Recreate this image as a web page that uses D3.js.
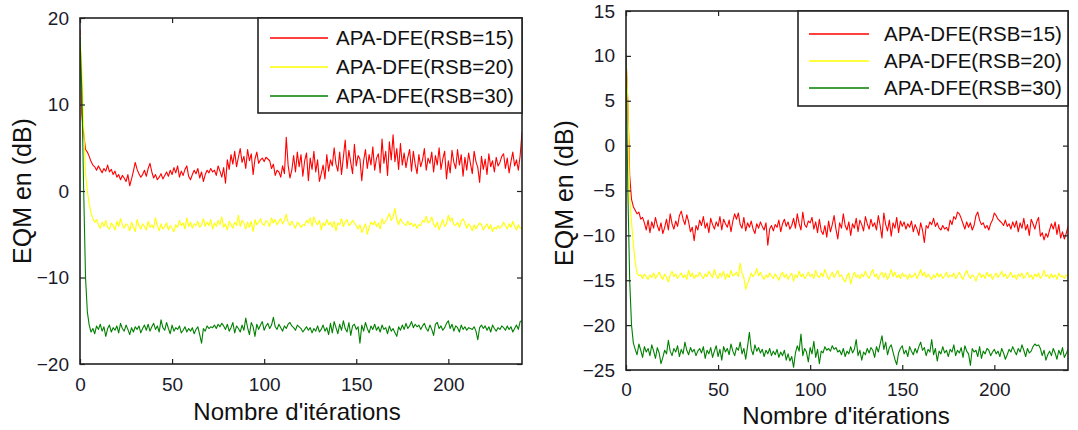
<!DOCTYPE html>
<html>
<head>
<meta charset="utf-8">
<script src="https://cdn.jsdelivr.net/npm/d3@7"></script>
<style>
  body { margin: 0; background: #fff; }
  svg { display: block; font-family: "Liberation Sans", Arial, sans-serif; }
</style>
</head>
<body>
<svg id="chart" width="1078" height="430"></svg>
<script>
// ---- data ----
const seriesNames = ["APA-DFE(RSB=15)", "APA-DFE(RSB=20)", "APA-DFE(RSB=30)"];
const xTicks = [0, 50, 100, 150, 200];
const xMax = 240;
const leftYTicks = [-20, -10, 0, 10, 20];
const rightYTicks = [-25, -20, -15, -10, -5, 0, 5, 10, 15];

// left panel
const leftRsb15 = [
  18.7, 8.9, 6.6, 4.8, 4.5, 4.0, 3.4, 3.0, 2.8, 2.4,
  2.9, 2.5, 2.1, 2.6, 2.3, 3.0, 2.2, 2.5, 1.9, 2.3,
  1.6, 1.9, 1.3, 1.8, 1.5, 1.1, 1.9, 0.6, 1.4, 2.3,
  3.3, 2.5, 2.0, 1.6, 1.9, 2.4, 1.7, 2.6, 3.2, 2.2,
  1.5, 1.9, 1.3, 1.6, 2.0, 1.4, 1.8, 2.2, 1.7, 2.4,
  1.9, 2.7, 2.1, 2.9, 1.6, 2.3, 1.8, 2.5, 2.9, 1.7,
  1.3, 1.9, 2.4, 2.0, 2.6, 1.5, 2.2, 1.1, 1.9, 2.4,
  2.1, 2.6, 2.2, 2.4, 1.8, 2.9, 2.3, 1.6, 2.7, 0.9,
  3.6, 2.5, 4.2, 3.1, 4.6, 2.8, 3.9, 4.9, 3.3, 4.0,
  2.6, 4.8, 3.5, 4.3, 1.9, 3.7, 4.5, 3.2, 3.6, 3.8,
  3.4, 3.9, 3.7, 3.5, 2.6, 3.1, 1.8, 2.4, 2.2, 1.6,
  2.9, 2.0, 6.2, 3.0, 1.5, 2.4, 4.1, 2.2, 4.5, 2.8,
  4.2, 1.7, 3.5, 4.4, 1.2, 3.8, 2.5, 4.6, 2.2, 3.6,
  1.1, 2.0, 3.0, 1.4, 4.2, 2.3, 3.6, 2.9, 5.0, 3.1,
  2.3, 4.5, 1.9, 3.9, 5.9, 2.6, 4.7, 3.3, 2.0, 5.4,
  2.9, 4.1, 3.7, 1.2, 3.5, 4.8, 2.6, 4.2, 3.0, 5.1,
  2.4, 3.8, 4.3, 2.1, 6.0, 3.2, 4.6, 1.8, 5.7, 3.6,
  6.5, 3.4, 4.9, 2.5, 5.5, 3.0, 4.4, 2.7, 3.9, 4.8,
  2.3, 4.6, 3.1, 2.0, 4.2, 2.8, 3.6, 4.9, 2.4, 3.8,
  3.2, 4.5, 2.2, 4.1, 3.0, 5.0, 2.5, 3.7, 4.6, 1.4,
  3.5, 2.1, 4.7, 3.3, 2.6, 4.8, 3.0, 4.2, 1.7, 3.9,
  2.4, 4.4, 3.2, 2.0, 4.6, 3.4, 2.7, 1.0, 4.0, 2.5,
  3.7, 1.9, 4.3, 2.8, 3.5, 2.2, 3.9, 2.9, 3.3, 4.0,
  4.3, 2.6, 3.8, 2.1, 3.4, 4.5, 2.9, 3.6, 2.4, 4.1,
  6.8
];
const leftRsb20 = [
  18.0, 13.9, 7.5, 2.0, 0.0, -1.5, -2.6, -3.2, -3.6, -3.3,
  -3.9, -4.3, -3.6, -4.1, -3.4, -4.2, -4.4, -3.7, -4.0, -4.5,
  -3.5, -4.1, -3.2, -3.9, -4.3, -3.8, -4.0, -4.6, -3.6, -4.2,
  -4.7, -3.3, -4.0, -4.4, -3.8, -4.1, -4.5, -3.5, -4.2, -3.9,
  -4.3, -3.1, -4.0, -4.6, -3.8, -4.4, -4.1, -3.7, -4.5, -4.0,
  -4.3, -4.7, -3.9, -4.2, -3.4, -4.0, -3.7, -4.4, -3.1, -4.1,
  -3.6, -4.3, -3.8, -4.0, -3.5, -4.2, -3.9, -3.2, -4.1, -3.6,
  -4.0, -3.3, -4.4, -3.7, -4.1, -3.4, -3.9, -3.0, -4.2, -3.8,
  -4.5, -3.5, -3.9, -4.3, -3.6, -4.0, -2.8, -4.1, -3.4, -3.7,
  -4.4, -3.6, -4.2, -3.5, -4.7, -3.3, -3.9, -3.6, -3.2, -3.8,
  -4.0, -3.4, -3.6, -4.1, -3.1, -3.7, -3.3, -3.9, -3.5, -3.2,
  -3.8, -3.4, -2.7, -3.6, -4.0, -3.5, -3.9, -4.3, -3.6, -3.8,
  -4.2, -3.9, -4.0, -3.4, -3.7, -3.1, -4.1, -3.0, -3.6, -3.9,
  -3.4, -4.5, -3.7, -4.0, -3.3, -3.9, -3.6, -4.2, -3.5, -4.6,
  -3.7, -3.9, -3.2, -4.1, -3.6, -3.3, -4.0, -3.8, -3.4, -3.7,
  -4.0, -4.4, -3.9, -4.8, -4.3, -3.8, -5.0, -4.2, -3.6, -3.9,
  -3.5, -4.1, -3.7, -4.4, -3.2, -3.8, -3.5, -3.1, -2.6, -3.4,
  -3.0, -2.0, -3.3, -3.9, -3.2, -3.6, -3.8, -4.0, -3.5, -3.9,
  -3.7, -4.1, -3.8, -4.3, -3.9, -4.0, -3.4, -3.6, -2.9, -3.7,
  -3.5, -3.0, -3.8, -4.2, -3.6, -4.5, -3.9, -3.3, -4.1, -3.8,
  -2.8, -3.5, -3.1, -3.9, -4.0, -3.6, -4.2, -3.5, -3.2, -3.7,
  -4.3, -3.8, -4.1, -4.6, -3.9, -4.4, -4.0, -3.7, -3.9, -4.5,
  -4.1, -3.8, -4.4, -3.9, -4.7, -4.2, -4.4, -4.0, -4.3, -4.1,
  -3.6, -4.0, -4.4, -3.8, -4.2, -3.5, -4.1, -4.5, -3.9, -4.3,
  -4.2
];
const leftRsb30 = [
  17.8, 11.4, 0.0, -10.0, -14.0, -15.5, -16.3, -15.9, -16.5, -15.6,
  -16.0, -15.4, -16.2, -15.7, -16.8, -15.9, -15.5, -16.3, -15.8, -16.1,
  -15.6, -16.4, -15.3, -15.9, -16.2, -15.5, -16.0, -16.6, -15.8, -16.3,
  -15.7, -16.0, -15.6, -16.4, -15.9, -15.5, -16.1, -15.4, -16.2, -15.7,
  -15.3, -16.0, -15.6, -16.3, -14.9, -15.8, -16.1, -15.2, -15.9, -16.5,
  -15.5, -16.2, -15.8, -16.0, -15.6, -16.4, -16.1, -15.7, -16.3, -15.9,
  -16.2, -15.8, -16.5, -16.0, -15.7, -16.6, -17.6, -15.9, -16.2, -15.6,
  -15.9, -15.7, -15.8, -15.5, -15.9, -15.4, -15.7, -15.3, -15.6, -16.0,
  -15.4, -16.2, -15.8, -15.2, -16.4, -15.6, -15.9, -16.3, -15.5, -16.1,
  -14.7, -15.8, -16.6, -15.2, -15.7, -16.8, -15.4, -16.0, -15.5, -15.1,
  -16.1, -15.6, -15.3, -15.9, -15.5, -14.6, -15.7, -16.0, -15.4, -15.8,
  -16.2, -15.6, -15.9, -15.4, -15.2, -15.6, -15.8, -16.1, -15.5, -15.7,
  -15.9, -16.3, -16.0, -15.7, -16.1, -15.8, -16.4, -15.9, -16.2, -15.6,
  -16.3, -16.0, -15.5, -16.2, -15.8, -16.6, -15.3, -16.4, -15.1, -15.8,
  -16.5, -15.4, -16.1, -15.0, -15.9, -16.3, -15.2, -16.7, -15.6, -15.4,
  -16.0, -15.7, -17.6, -15.5, -16.2, -15.2, -15.9, -16.4, -15.6, -16.0,
  -15.4, -16.1, -15.7, -16.3, -15.5, -16.0, -15.8, -16.5, -15.6, -16.2,
  -15.9, -16.4, -16.8, -15.7, -16.1, -15.5, -16.0, -15.3, -15.9, -15.6,
  -15.1, -15.8, -15.4, -15.7, -15.5, -16.0, -15.6, -15.3, -15.9, -16.2,
  -15.5, -16.0, -16.7, -15.4, -15.2, -15.9, -15.6, -16.1, -15.8, -15.3,
  -15.0, -15.9, -15.4, -16.2, -15.6, -15.8, -16.3, -15.5, -16.0, -15.7,
  -16.1, -15.8, -15.9, -16.0, -15.7, -16.2, -17.2, -15.8, -15.5, -15.9,
  -15.6, -16.1, -15.7, -16.3, -15.5, -15.9, -16.2, -15.8, -16.0, -15.6,
  -15.8, -16.1, -15.6, -16.0, -15.7, -16.3, -15.9, -15.5, -16.0, -15.1,
  -15.0
];

// right panel
const rightRsb15 = [
  10.0, 4.8, -3.3, -6.0, -6.8, -7.2, -7.6, -7.4, -8.2, -8.0,
  -8.6, -9.4, -8.3, -9.7, -8.5, -9.2, -8.0, -8.9, -9.5, -8.6,
  -9.8, -9.1, -8.2, -9.4, -7.6, -8.7, -9.3, -8.4, -9.0, -7.8,
  -7.3, -8.2, -8.8, -7.7, -8.5, -9.6, -9.1, -10.6, -8.9, -9.4,
  -8.3, -8.9, -7.9, -9.2, -8.6, -9.7, -8.1, -8.8, -9.3, -8.5,
  -9.0, -7.9, -9.4, -8.2, -8.7, -9.1, -8.3, -9.6, -8.4, -7.6,
  -8.2, -7.5, -8.8, -9.2, -8.0, -9.5, -8.6, -9.1, -8.4, -9.3,
  -9.8, -8.7, -9.2, -8.5, -9.0, -9.4, -8.6, -11.1, -9.3, -8.9,
  -9.5, -8.8, -9.1, -8.3, -9.6, -8.7, -8.2, -9.0, -8.5, -9.3,
  -8.9, -8.1, -9.2, -7.6, -8.7, -9.4, -7.4, -8.8, -9.1, -8.4,
  -8.6, -8.0, -9.3, -8.5, -9.7, -8.2, -9.5, -9.9, -8.9, -10.2,
  -8.4, -9.6, -8.8, -7.8, -9.3, -10.4, -8.6, -9.2, -7.6, -8.9,
  -9.4, -8.5, -10.0, -8.7, -9.2, -8.1, -9.6, -8.3, -8.8, -9.5,
  -7.9, -8.7, -9.3, -8.2, -9.0, -8.6, -9.4, -7.8, -8.9, -10.3,
  -7.5, -8.8, -9.5, -8.3, -10.1, -8.6, -9.2, -8.0, -9.7, -8.4,
  -9.0, -8.5, -9.3, -8.7, -9.1, -8.4, -9.6, -8.8, -9.3, -10.0,
  -8.6, -9.4, -10.8, -8.9, -9.2, -8.5, -8.8, -8.1, -9.0, -8.6,
  -9.2, -9.4, -8.9, -9.3, -9.1, -9.5, -8.3, -8.8, -7.9, -8.2,
  -7.4, -7.6, -8.1, -8.7, -9.3, -8.5, -9.1, -8.6, -9.4, -8.9,
  -7.8, -7.4, -8.3, -8.8, -8.6, -9.2, -8.9, -9.4, -8.7, -8.3,
  -7.5, -7.8, -8.2, -8.4, -8.6, -8.9, -8.3, -9.0, -8.7, -9.3,
  -8.5, -9.1, -8.4, -9.6, -8.6, -9.2, -8.1, -9.4, -8.8, -10.0,
  -8.2, -8.7, -9.3, -8.5, -8.0, -10.1, -9.7, -10.5, -9.8, -10.2,
  -9.4, -8.7, -9.3, -8.5, -9.9, -8.8, -10.3, -9.6, -10.4, -9.8,
  -9.0
];
const rightRsb20 = [
  10.0, 5.0, -5.8, -8.5, -11.0, -13.0, -14.2, -14.5, -14.4, -14.8,
  -14.3, -14.6, -14.9, -14.4, -14.7, -14.2, -14.8, -14.5, -14.1, -14.6,
  -14.9, -14.3, -14.7, -15.2, -14.4, -14.0, -14.6, -14.3, -14.8, -14.5,
  -14.2, -14.7, -14.4, -14.9, -13.9, -14.6, -14.2, -14.8, -14.4, -14.6,
  -14.1, -14.5, -14.8, -14.3, -14.6, -14.0, -14.4, -14.7, -13.8, -14.5,
  -14.8, -14.2, -14.6, -14.0, -14.9, -14.3, -14.7, -13.9, -14.5, -14.4,
  -14.1, -14.6, -13.1, -14.2, -14.7, -16.0, -15.4, -14.8, -14.2, -14.6,
  -14.3, -13.7, -14.5, -14.1, -14.6, -14.9, -14.4, -14.7, -14.2, -14.5,
  -14.8, -14.3, -14.6, -15.0, -14.4, -14.1, -14.7, -14.3, -14.9, -14.5,
  -14.2, -15.1, -14.4, -14.7, -14.0, -14.6, -14.3, -14.8, -14.5, -14.1,
  -14.6, -14.3, -14.8, -13.9, -14.5, -14.7, -14.2, -14.6, -13.8, -14.4,
  -14.9, -14.5, -14.1, -14.7, -14.3, -13.9, -14.6, -14.4, -14.9, -15.2,
  -14.5, -14.2, -15.4, -14.6, -14.1, -14.7, -14.4, -14.8, -14.3, -14.6,
  -14.0, -14.5, -14.8, -14.2, -13.8, -14.6, -14.3, -14.9, -14.4, -14.1,
  -14.7, -14.2, -14.9, -14.5, -13.8, -14.6, -14.1, -14.7, -14.4, -14.8,
  -14.2, -14.6, -14.4, -14.9, -14.3, -14.7, -14.5, -14.2, -14.8, -14.4,
  -13.8, -14.5, -14.1, -14.7, -14.3, -14.6, -14.9, -14.4, -14.7, -14.2,
  -14.6, -14.3, -14.8, -14.5, -14.1, -14.7, -14.4, -14.6, -14.2, -14.8,
  -14.5, -14.1, -14.6, -14.9, -14.3, -13.9, -14.5, -14.8, -14.4, -14.6,
  -15.1, -14.5, -14.2, -14.7, -14.4, -14.8, -14.1, -14.6, -14.3, -14.9,
  -14.5, -14.2, -14.7, -14.4, -14.0, -14.6, -14.3, -14.8, -14.5, -14.1,
  -14.7, -14.4, -14.9, -14.3, -14.6, -14.2, -14.8, -14.5, -14.1, -14.7,
  -14.4, -14.9, -14.3, -14.6, -14.2, -14.8, -14.5, -13.9, -14.6, -14.4,
  -14.8, -14.3, -14.7, -14.4, -14.9, -14.2, -14.6, -14.5, -14.8, -14.4,
  -14.6
];
const rightRsb30 = [
  10.2, -5.0, -15.0, -20.0, -22.0, -22.7, -23.3, -22.1, -22.8, -23.6,
  -22.4, -23.0, -22.6, -23.4, -22.2, -22.9, -23.7, -22.5, -23.1, -24.3,
  -23.6, -22.8, -23.2, -21.7, -22.9, -23.4, -22.6, -23.0, -22.3, -23.5,
  -22.7, -23.2, -21.9, -22.8, -23.3, -22.5, -23.0, -22.7, -23.4, -22.9,
  -22.6, -23.1, -22.4, -23.7, -22.8, -23.2, -22.5, -23.6, -22.9, -22.3,
  -23.5, -22.7, -23.9, -22.4, -23.0, -22.6, -23.3, -22.1, -22.9, -23.4,
  -22.5, -22.8, -21.9, -23.2, -22.6, -23.8, -22.4, -20.8, -22.7, -23.3,
  -22.2, -22.9, -22.5, -23.1, -22.7, -23.5, -22.8, -23.2, -22.6, -23.4,
  -22.9, -23.3, -22.7, -23.6, -23.0, -23.4, -22.8, -23.9, -23.2, -24.0,
  -23.5, -24.7, -23.1, -22.3, -22.9, -21.0, -23.4, -22.6, -23.0, -24.1,
  -22.5, -23.2, -21.8, -23.6, -22.7, -24.3, -22.9, -23.1, -22.4, -22.8,
  -22.6, -22.9, -22.3, -22.7, -22.5, -23.0, -22.8, -23.3, -22.6, -23.5,
  -22.9, -23.2, -22.4, -23.1, -22.7, -21.6, -23.4, -22.8, -23.9, -23.0,
  -23.3, -22.6, -23.1, -22.5, -22.8, -23.6, -22.4, -23.0, -22.1, -21.2,
  -22.7, -21.9, -23.3, -22.5, -22.2, -23.0, -23.8, -24.4, -23.1, -22.6,
  -22.3, -23.2, -22.8, -23.5, -22.4, -22.9, -23.3, -22.6, -23.1, -22.4,
  -21.9, -22.8, -22.5, -23.4, -22.7, -23.0, -21.6, -23.3, -22.6, -24.0,
  -22.9, -23.2, -22.4, -23.1, -22.8, -23.5, -22.7, -23.0, -22.2, -23.4,
  -22.8, -23.1, -22.5, -23.6, -22.3, -22.9, -23.2, -24.5, -22.6, -23.0,
  -22.8, -23.5, -22.4, -23.7, -22.9, -23.2, -22.6, -22.8, -23.4, -23.0,
  -22.7, -23.2, -22.9, -23.5, -22.6, -23.1, -23.8, -23.3, -22.7, -23.0,
  -22.4, -22.9, -23.3, -22.6, -23.0, -22.2, -22.8, -23.5, -22.6, -23.1,
  -22.9, -22.4, -22.1, -22.3, -22.2, -22.6, -23.4, -22.8, -23.9, -23.3,
  -22.9, -23.4, -22.6, -23.1, -23.8, -22.8, -23.3, -22.5, -23.6, -23.2,
  -22.7
];

const lineColors = ["#ff0000", "#ffff00", "#008000"];

// ---- layout ----
const panels = [
  {
    left: 80, right: 522, top: 18, bottom: 364,
    yDomain: [-20, 20], yTicks: leftYTicks,
    series: [leftRsb15, leftRsb20, leftRsb30],
    legend: {x0: 258, y1: 113, rows: [38, 67, 96], lineX: [270, 328], textX: 336},
    yLabelX: 22, yLabelY: 191, xLabelX: 297, xLabelY: 420, xTickY: 384
  },
  {
    left: 626, right: 1068, top: 11, bottom: 370,
    yDomain: [-25, 15], yTicks: rightYTicks,
    series: [rightRsb15, rightRsb20, rightRsb30],
    legend: {x0: 798, y1: 106, rows: [34, 61, 88], lineX: [809, 869], textX: 884},
    yLabelX: 564, yLabelY: 193, xLabelX: 846, xLabelY: 424, xTickY: 389
  }
];

const svg = d3.select("#chart");

panels.forEach((p, pi) => {
  const x = d3.scaleLinear().domain([0, xMax]).range([p.left, p.right]);
  const y = d3.scaleLinear().domain(p.yDomain).range([p.bottom, p.top]);
  const g = svg.append("g").attr("class", "panel-" + pi);

  const clipId = "clip" + pi;
  g.append("clipPath").attr("id", clipId)
    .append("rect")
    .attr("x", p.left).attr("y", p.top)
    .attr("width", p.right - p.left).attr("height", p.bottom - p.top);

  // series lines, drawn in legend order so green ends on top
  const line = d3.line()
    .x((d, i) => x(i))
    .y(d => y(d));

  g.append("g").attr("clip-path", `url(#${clipId})`)
    .selectAll("path")
    .data(p.series)
    .join("path")
    .attr("d", line)
    .attr("fill", "none")
    .attr("stroke", (d, i) => lineColors[i])
    .attr("stroke-width", 1.1)
    .attr("stroke-linejoin", "round");

  // axes: ticks point inward like matlab
  const tickLen = 5;
  const bottomAxis = d3.axisBottom(x).tickValues(xTicks).tickSize(-tickLen);
  const topAxis = d3.axisTop(x).tickValues(xTicks).tickSize(-tickLen).tickFormat("");
  const leftAxis = d3.axisLeft(y).tickValues(p.yTicks).tickSize(-tickLen).tickPadding(tickLen + 6);
  const rightAxis = d3.axisRight(y).tickValues(p.yTicks).tickSize(-tickLen).tickFormat("");

  const styleAxis = sel => {
    sel.select(".domain").remove();
    sel.selectAll(".tick line").attr("stroke", "#222").attr("stroke-width", 1.2);
    sel.selectAll("text").attr("fill", "#1a1a2a").attr("font-size", 19)
      .attr("font-family", "Liberation Sans, Arial, sans-serif");
  };

  g.append("g").attr("transform", `translate(0,${p.bottom})`).call(bottomAxis).call(styleAxis)
    .selectAll("text").attr("dy", "0.36em").attr("y", p.xTickY - p.bottom);
  g.append("g").attr("transform", `translate(0,${p.top})`).call(topAxis).call(styleAxis);
  g.append("g").attr("transform", `translate(${p.left},0)`).call(leftAxis).call(styleAxis);
  g.append("g").attr("transform", `translate(${p.right},0)`).call(rightAxis).call(styleAxis);

  // box
  g.append("rect")
    .attr("x", p.left).attr("y", p.top)
    .attr("width", p.right - p.left).attr("height", p.bottom - p.top)
    .attr("fill", "none").attr("stroke", "#222").attr("stroke-width", 1.6);

  // legend
  const lg = p.legend;
  g.append("rect")
    .attr("x", lg.x0).attr("y", p.top)
    .attr("width", p.right - lg.x0).attr("height", lg.y1 - p.top)
    .attr("fill", "#fff").attr("stroke", "#222").attr("stroke-width", 1.6);

  const items = g.append("g").selectAll("g")
    .data(seriesNames)
    .join("g")
    .attr("transform", (d, i) => `translate(0,${lg.rows[i]})`);

  items.append("line")
    .attr("x1", lg.lineX[0]).attr("x2", lg.lineX[1])
    .attr("stroke", (d, i) => lineColors[i])
    .attr("stroke-width", 1.6);

  items.append("text")
    .attr("x", lg.textX)
    .attr("dy", "0.36em")
    .attr("font-size", 20.5)
    .attr("fill", "#111")
    .text(d => d);

  // axis labels
  g.append("text")
    .attr("transform", `translate(${p.yLabelX},${p.yLabelY}) rotate(-90)`)
    .attr("text-anchor", "middle")
    .attr("dy", "0.36em")
    .attr("font-size", 25)
    .attr("fill", "#111")
    .text("EQM en (dB)");

  g.append("text")
    .attr("x", p.xLabelX)
    .attr("y", p.xLabelY)
    .attr("text-anchor", "middle")
    .attr("font-size", 24)
    .attr("fill", "#111")
    .text("Nombre d'itérations");
});
</script>
</body>
</html>
